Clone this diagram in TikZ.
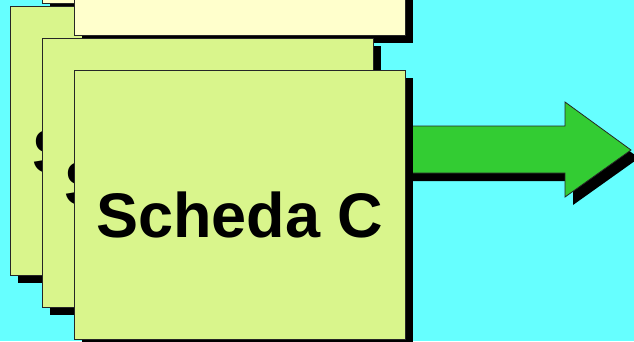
\documentclass[tikz,border=0pt]{standalone}
\usepackage{fontspec}
\setmainfont{Liberation Sans}
\definecolor{bgcyan}{RGB}{102, 255, 255}
\definecolor{cardgreen}{RGB}{217, 245, 140}
\definecolor{cardcream}{RGB}{255, 255, 204}
\definecolor{arrowgreen}{RGB}{51, 204, 51}
\usetikzlibrary{shadows}
\tikzstyle{card} = [draw=black!85, line width=0.8pt, minimum width=331pt, minimum height=269pt,
                    inner sep=0pt, anchor=north west,
                    general shadow={fill=black, shadow xshift=8pt, shadow yshift=-8pt}]
\tikzstyle{greencard} = [card, fill=cardgreen]
\tikzstyle{creamcard} = [card, fill=cardcream]
\tikzstyle{cardlabel} = [font=\bfseries\fontsize{63}{63}\selectfont, inner sep=0pt]
\tikzstyle{bigarrow} = [draw=black!85, line width=0.8pt, fill=arrowgreen,
                        general shadow={fill=black, shadow xshift=8pt, shadow yshift=-8pt}]
\begin{document}
\begin{tikzpicture}[x=1pt, y=-1pt]
                    \useasboundingbox[fill=bgcyan] (0, 0) rectangle (634, 341);
                    \node[creamcard] (creamB) at (42, -266) {};
                    \node[greencard, label={[cardlabel, yshift=-10pt]center:Scheda A}] (cardA) at (10, 6) {};
                    \node[creamcard] (creamC) at (74, -234) {};
                    \node[greencard, label={[cardlabel, yshift=-10pt]center:Scheda B}] (cardB) at (42, 38) {};
                    \draw[bigarrow] (400, 126) -- (565, 126) -- (565, 102) -- (631, 150)
                                    -- (565, 197) -- (565, 173) -- (400, 173) -- cycle;
                    \node[greencard, label={[cardlabel, yshift=-10pt]center:Scheda C}] (cardC) at (74, 70) {};
                \end{tikzpicture}
\end{document}
